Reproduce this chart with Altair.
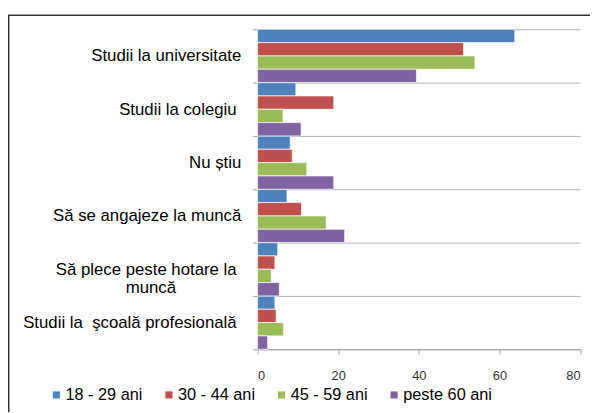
import altair as alt
import pandas as pd

NB = "\u00a0"
ZW = "\u200b"
categories = ["Studii la universitate", "Studii la colegiu" + NB + ZW, "Nu știu",
              "Să se angajeze la muncă", "Să plece peste hotare la muncă",
              "Studii la" + NB + " şcoală profesională" + NB + ZW]
series = ["18 - 29 ani", "30 - 44 ani", "45 - 59 ani", "peste 60 ani"]
v18_29 = [63.8, 9.5, 8.1, 7.3, 5.0, 4.3]
v30_44 = [51.1, 18.9, 8.6, 10.9, 4.3, 4.6]
v45_59 = [53.9, 6.3, 12.2, 17.0, 3.4, 6.4]
v60 = [39.4, 10.8, 18.9, 21.6, 5.4, 2.5]
colors = ["#4F81BD", "#C0504D", "#9BBB59", "#8064A2"]
x_ticks = [0, 20, 40, 60, 80]

rows = []
for s, vals in zip(series, [v18_29, v30_44, v45_59, v60]):
    for c, v in zip(categories, vals):
        rows.append({"cat": c, "series": s, "value": v})
df = pd.DataFrame(rows)

wrap_cat = "Să plece peste hotare la muncă"
label_expr = (
    "datum.value == '" + wrap_cat + "' ? ['Să plece peste hotare la" + NB + ZW + "', 'muncă"
    + NB * 14 + ZW + "'] : datum.value"
)

FONT = "Liberation Sans, Arial, sans-serif"

bars = alt.Chart(df).mark_bar(stroke="white", strokeWidth=1, strokeOpacity=0.7).encode(
    x=alt.X("value:Q", scale=alt.Scale(domain=[0, 80], nice=False),
            axis=alt.Axis(values=x_ticks, title=None, grid=False, domainColor="#A0A0A0",
                          tickColor="#A0A0A0", tickSize=5, labelPadding=16,
                          labelFontSize=13, labelColor="#333333", labelFont=FONT)),
    y=alt.Y("cat:N", sort=categories,
            scale=alt.Scale(paddingInner=0, paddingOuter=0),
            axis=alt.Axis(title=None, tickBand="extent", grid=True, gridColor="#B0B0B0",
                          domainColor="#A0A0A0", tickColor="#A0A0A0", tickSize=5,
                          labelPadding=12, labelFontSize=17, labelColor="#000000",
                          labelFont=FONT, labelExpr=label_expr, labelLineHeight=19,
                          labelLimit=300)),
    yOffset=alt.YOffset("series:N", sort=series, scale=alt.Scale(paddingInner=0, paddingOuter=0)),
    color=alt.Color("series:N", sort=series,
                    scale=alt.Scale(domain=series, range=colors),
                    legend=alt.Legend(title=None, orient="none", direction="horizontal",
                                      legendX=-212, legendY=362, symbolType="square",
                                      symbolSize=52, symbolStrokeWidth=0, labelFontSize=16.5,
                                      labelFont=FONT, labelColor="#000000", labelOffset=1,
                                      columnPadding=18, gridAlign="none", padding=0,
                                      symbolOpacity=1)),
)

frame = alt.Chart(pd.DataFrame({"f": [0]})).mark_rect(
    fill=None, stroke="#303030", strokeWidth=1.5
).encode(
    x=alt.value(-252), x2=alt.value(400), y=alt.value(-14.3), y2=alt.value(450)
)

chart = alt.layer(bars, frame).properties(
    width=326.6, height=324,
    autosize=alt.AutoSizeParams(type="none"),
    padding={"left": 252.7, "top": 19, "right": 10, "bottom": 61},
).configure_view(stroke=None)

chart.save("out.html", embed_options={"renderer": "svg", "actions": False})
